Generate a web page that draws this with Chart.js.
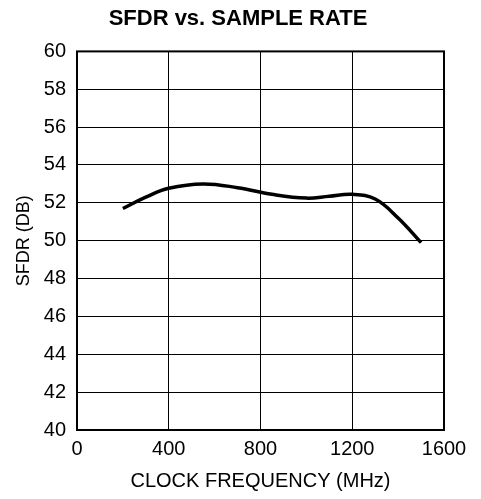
<!DOCTYPE html>
<html>
<head>
<meta charset="utf-8">
<script src="https://cdn.jsdelivr.net/npm/chart.js@4"></script>
<style>
  html, body { margin: 0; padding: 0; background: #fff; }
  #wrap { width: 481px; height: 499px; }
</style>
</head>
<body>
<div id="wrap"><canvas id="myChart" width="481" height="499"></canvas></div>
<script>
// clock frequency (MHz) and SFDR (dB)
var clockFreq = [200, 300, 400, 550, 700, 850, 1000, 1100, 1200, 1300, 1400, 1500];
var sfdr = [51.7, 52.3, 52.77, 53.0, 52.8, 52.45, 52.25, 52.35, 52.45, 52.2, 51.2, 49.9];

var xTicks = [0, 400, 800, 1200, 1600];
var yMin = 40, yMax = 60, yStep = 2;

var points = clockFreq.map(function (f, i) { return { x: f, y: sfdr[i] }; });

// heavy box around the plot area
var frameBox = {
    id: 'frameBox',
    afterDraw: function (chart) {
        var a = chart.chartArea, c = chart.ctx;
        c.save();
        c.strokeStyle = '#000';
        c.lineWidth = 2;
        c.strokeRect(a.left, a.top, a.right - a.left, a.bottom - a.top);
        c.restore();
    }
};

var ctx = document.getElementById('myChart').getContext('2d');
var chart = new Chart(ctx, {
    type: 'scatter',
    data: {
        datasets: [{
            data: points,
            showLine: true,
            borderColor: '#000',
            borderWidth: 3.5,
            pointRadius: 0,
            tension: 0.4,
            fill: false
        }]
    },
    options: {
        responsive: false,
        animation: false,
        layout: { padding: { left: 0, right: 5, top: 0, bottom: 0 } },
        plugins: {
            legend: { display: false },
            tooltip: { enabled: false },
            title: {
                display: true,
                text: 'SFDR vs. SAMPLE RATE',
                color: '#000',
                font: { family: 'Liberation Sans', size: 22, weight: 'bold' },
                padding: { top: 6, bottom: 19 }
            }
        },
        scales: {
            x: {
                type: 'linear',
                min: 0,
                max: 1600,
                afterBuildTicks: function (axis) {
                    axis.ticks = xTicks.map(function (v) { return { value: v }; });
                },
                afterFit: function (axis) {
                    axis.height = 69;
                    axis.paddingRight = 37; // room right of the plot box
                },
                grid: { color: '#000', lineWidth: 1, drawTicks: false },
                border: { display: false },
                ticks: {
                    color: '#000',
                    font: { family: 'Liberation Sans', size: 20 },
                    padding: 7,
                    maxRotation: 0,
                    callback: function (v) { return String(v); }
                },
                title: {
                    display: true,
                    text: 'CLOCK FREQUENCY (MHz)',
                    color: '#000',
                    font: { family: 'Liberation Sans', size: 20 },
                    padding: { top: 4, bottom: 6 }
                }
            },
            y: {
                min: yMin,
                max: yMax,
                afterFit: function (axis) { axis.width = 77; },
                grid: { color: '#000', lineWidth: 1, drawTicks: false },
                border: { display: false },
                ticks: {
                    stepSize: yStep,
                    color: '#000',
                    font: { family: 'Liberation Sans', size: 20 },
                    padding: 11
                },
                title: {
                    display: true,
                    text: 'SFDR (DB)',
                    color: '#000',
                    font: { family: 'Liberation Sans', size: 18 },
                    padding: { top: 13, bottom: 0 }
                }
            }
        }
    },
    plugins: [frameBox]
});
</script>
</body>
</html>
